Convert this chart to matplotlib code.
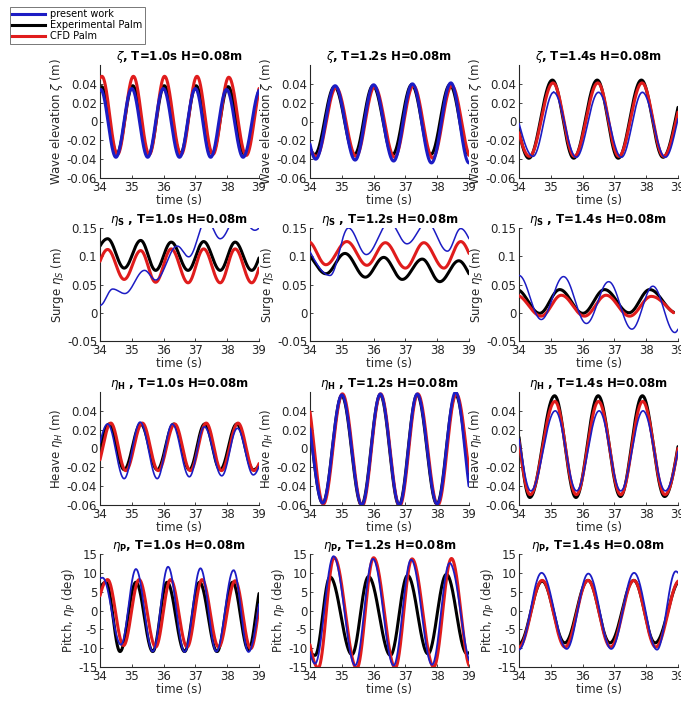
import numpy as np
import matplotlib
matplotlib.use("Agg")
import matplotlib.pyplot as plt
from matplotlib.lines import Line2D

# ---------------- data (knots: start, extrema..., end) ----------------
# Row 1: wave elevation zeta (m)
z10_blue_t = [34, 34.02, 34.5, 35.0, 35.5, 35.99, 36.5, 37.0, 37.48, 37.98, 38.5, 39]
z10_blue_v = [0.033, 0.034, -0.038, 0.035, -0.038, 0.035, -0.038, 0.035, -0.038, 0.034, -0.038, 0.033]
z10_black_t = [34, 34.05, 34.53, 35.03, 35.53, 36.02, 36.53, 37.02, 37.53, 38.03, 38.55, 39]
z10_black_v = [0.036, 0.037, -0.034, 0.038, -0.035, 0.038, -0.034, 0.038, -0.034, 0.037, -0.035, 0.033]
z10_red_t = [34, 34.06, 34.55, 35.05, 35.55, 36.03, 36.55, 37.05, 37.55, 38.05, 38.6, 39]
z10_red_v = [0.046, 0.048, -0.035, 0.048, -0.035, 0.048, -0.035, 0.048, -0.035, 0.047, -0.036, 0.035]

z12_blue_t = [34, 34.18, 34.79, 35.42, 36.0, 36.63, 37.22, 37.82, 38.43, 39]
z12_blue_v = [-0.024, -0.040, 0.038, -0.041, 0.039, -0.042, 0.040, -0.044, 0.041, -0.044]
z12_black_t = [34, 34.15, 34.77, 35.4, 35.98, 36.6, 37.2, 37.8, 38.4, 39]
z12_black_v = [-0.028, -0.035, 0.037, -0.035, 0.038, -0.035, 0.039, -0.035, 0.039, -0.035]
z12_red_t = [34, 34.2, 34.82, 35.45, 36.03, 36.66, 37.25, 37.86, 38.46, 39]
z12_red_v = [-0.028, -0.037, 0.036, -0.037, 0.037, -0.038, 0.038, -0.039, 0.038, -0.036]

z14_blue_t = [34, 34.44, 35.09, 35.8, 36.5, 37.22, 37.88, 38.6, 39]
z14_blue_v = [-0.002, -0.037, 0.031, -0.038, 0.031, -0.038, 0.031, -0.038, 0.003]
z14_black_t = [34, 34.31, 35.05, 35.72, 36.46, 37.12, 37.85, 38.53, 39]
z14_black_v = [-0.010, -0.039, 0.044, -0.039, 0.044, -0.039, 0.044, -0.038, 0.015]
z14_red_t = [34, 34.33, 35.07, 35.74, 36.48, 37.14, 37.87, 38.55, 39]
z14_red_v = [-0.012, -0.037, 0.041, -0.037, 0.041, -0.037, 0.041, -0.037, 0.010]

# Row 2: surge (m)
s10_blue_t = [34, 34.4, 34.78, 35.4, 35.75, 36.43, 36.79, 37.35, 37.78, 38.35, 38.87, 39]
s10_blue_v = [0.013, 0.042, 0.034, 0.075, 0.058, 0.118, 0.099, 0.165, 0.131, 0.175, 0.146, 0.150]
s10_black_t = [34, 34.24, 34.76, 35.28, 35.75, 36.24, 36.77, 37.26, 37.78, 38.25, 38.77, 39]
s10_black_v = [0.118, 0.131, 0.079, 0.128, 0.075, 0.125, 0.075, 0.126, 0.075, 0.125, 0.075, 0.097]
s10_red_t = [34, 34.24, 34.76, 35.28, 35.75, 36.24, 36.77, 37.26, 37.78, 38.25, 38.77, 39]
s10_red_v = [0.091, 0.112, 0.059, 0.110, 0.054, 0.113, 0.053, 0.113, 0.053, 0.113, 0.053, 0.079]

s12_blue_t = [34, 34.63, 35.21, 35.77, 36.5, 37.05, 37.68, 38.32, 38.74, 39]
s12_blue_v = [0.108, 0.066, 0.150, 0.103, 0.160, 0.122, 0.160, 0.109, 0.149, 0.131]
s12_black_t = [34, 34.5, 35.1, 35.74, 36.32, 36.9, 37.53, 38.08, 38.68, 39]
s12_black_v = [0.100, 0.069, 0.105, 0.063, 0.098, 0.059, 0.095, 0.055, 0.092, 0.069]
s12_red_t = [34, 34.5, 35.16, 35.79, 36.37, 37.0, 37.58, 38.21, 38.74, 39]
s12_red_v = [0.125, 0.085, 0.126, 0.084, 0.124, 0.079, 0.124, 0.079, 0.126, 0.105]

s14_blue_t = [34, 34.7, 35.4, 36.12, 36.82, 37.55, 38.21, 38.9, 39]
s14_blue_v = [0.066, -0.012, 0.064, -0.019, 0.055, -0.029, 0.047, -0.035, -0.029]
s14_black_t = [34, 34.65, 35.28, 36.01, 36.69, 37.46, 38.11, 38.86]
s14_black_v = [0.040, -0.001, 0.041, -0.001, 0.041, 0.0, 0.041, 0.001]
s14_red_t = [34, 34.7, 35.33, 36.06, 36.74, 37.48, 38.16, 38.86]
s14_red_v = [0.030, -0.006, 0.031, -0.006, 0.031, -0.006, 0.029, 0.0]

# Row 3: heave (m)
h10_blue_t = [34, 34.24, 34.76, 35.26, 35.8, 36.27, 36.81, 37.28, 37.83, 38.32, 38.82, 39]
h10_blue_v = [0.006, 0.026, -0.032, 0.028, -0.032, 0.026, -0.030, 0.023, -0.029, 0.0215, -0.028, -0.019]
h10_black_t = [34, 34.29, 34.76, 35.28, 35.8, 36.32, 36.81, 37.29, 37.78, 38.3, 38.82, 39]
h10_black_v = [0.0, 0.026, -0.0225, 0.026, -0.0225, 0.026, -0.0225, 0.026, -0.0225, 0.026, -0.0225, -0.018]
h10_red_t = [34, 34.34, 34.81, 35.33, 35.83, 36.35, 36.84, 37.34, 37.82, 38.34, 38.84, 39]
h10_red_v = [-0.012, 0.027, -0.0235, 0.027, -0.0235, 0.026, -0.0235, 0.027, -0.0235, 0.027, -0.0235, -0.016]

h12_blue_t = [34, 34.4, 35.0, 35.63, 36.21, 36.81, 37.37, 38.0, 38.58, 39]
h12_blue_v = [0.021, -0.058, 0.057, -0.060, 0.058, -0.060, 0.058, -0.059, 0.060, -0.040]
h12_black_t = [34, 34.4, 35.0, 35.62, 36.21, 36.8, 37.37, 37.99, 38.58, 39]
h12_black_v = [0.022, -0.058, 0.056, -0.060, 0.057, -0.060, 0.057, -0.059, 0.057, -0.030]
h12_red_t = [34, 34.42, 35.02, 35.64, 36.22, 36.82, 37.39, 38.02, 38.6, 39]
h12_red_v = [0.039, -0.059, 0.058, -0.061, 0.058, -0.061, 0.058, -0.060, 0.058, -0.025]

h14_blue_t = [34, 34.37, 35.14, 35.81, 36.52, 37.2, 37.9, 38.6, 39]
h14_blue_v = [0.010, -0.045, 0.040, -0.045, 0.040, -0.045, 0.040, -0.045, -0.003]
h14_black_t = [34, 34.34, 35.12, 35.79, 36.49, 37.19, 37.88, 38.58, 39]
h14_black_v = [0.012, -0.052, 0.056, -0.052, 0.056, -0.051, 0.056, -0.051, 0.002]
h14_red_t = [34, 34.35, 35.13, 35.8, 36.5, 37.2, 37.89, 38.59, 39]
h14_red_v = [0.008, -0.049, 0.050, -0.049, 0.050, -0.049, 0.050, -0.049, 0.0]

# Row 4: pitch (deg)
p10_blue_t = [34, 34.08, 34.66, 35.13, 35.66, 36.14, 36.66, 37.16, 37.66, 38.2, 38.67, 39]
p10_blue_v = [8.5, 8.7, -9.1, 11.0, -10.9, 11.6, -11.0, 11.2, -10.9, 10.7, -11.0, 1.7]
p10_black_t = [34, 34.19, 34.63, 35.13, 35.66, 36.11, 36.66, 37.13, 37.68, 38.17, 38.67, 39]
p10_black_v = [6.0, 7.5, -10.9, 7.5, -10.9, 7.5, -10.9, 7.5, -10.9, 7.5, -10.5, 4.5]
p10_red_t = [34, 34.24, 34.74, 35.23, 35.75, 36.22, 36.74, 37.21, 37.73, 38.25, 38.74, 39]
p10_red_v = [3.9, 8.2, -9.3, 8.2, -9.7, 8.2, -9.7, 8.2, -9.7, 7.9, -10.1, 0.8]

p12_blue_t = [34, 34.16, 34.74, 35.42, 35.98, 36.63, 37.18, 37.84, 38.39, 39]
p12_blue_v = [-11.0, -14.1, 14.4, -14.6, 13.7, -14.6, 13.5, -14.4, 12.6, -13.2]
p12_black_t = [34, 34.16, 34.63, 35.32, 35.84, 36.53, 37.07, 37.71, 38.29, 38.93, 39]
p12_black_v = [-11.0, -11.9, 8.9, -11.7, 9.0, -11.9, 9.3, -11.5, 9.6, -11.4, -11.2]
p12_red_t = [34, 34.26, 34.76, 35.47, 36.0, 36.68, 37.21, 37.89, 38.45, 39]
p12_red_v = [-9.1, -15.2, 14.1, -15.4, 14.0, -15.2, 13.7, -15.0, 13.8, -14.6]

p14_blue_t = [34, 34.71, 35.5, 36.18, 36.9, 37.62, 38.34, 38.93, 39]
p14_blue_v = [-10.4, 10.0, -10.2, 9.8, -10.2, 10.0, -10.4, 10.4, 10.0]
p14_black_t = [34, 34.73, 35.44, 36.17, 36.86, 37.61, 38.28, 38.98]
p14_black_v = [-8.9, 7.8, -8.6, 8.0, -8.6, 8.0, -8.6, 7.4]
p14_red_t = [34, 34.73, 35.45, 36.17, 36.88, 37.61, 38.3, 39.0]
p14_red_v = [-9.7, 8.0, -9.7, 8.0, -9.7, 8.0, -9.7, 7.8]

periods = ["1.0", "1.2", "1.4"]
legend_labels = ["present work", "Experimental Palm", "CFD Palm"]
row_titles = [r"$\zeta$, T={}s H=0.08m",
              r"$\eta_\mathbf{{S}}$ , T={}s H=0.08m",
              r"$\eta_\mathbf{{H}}$ , T={}s H=0.08m",
              r"$\eta_\mathbf{{P}}$, T={}s H=0.08m"]
row_ylabels = [r"Wave elevation $\zeta$ (m)", r"Surge $\eta_S$ (m)",
               r"Heave $\eta_H$ (m)", r"Pitch, $\eta_P$ (deg)"]
row_ylims = [(-0.06, 0.06), (-0.05, 0.15), (-0.06, 0.06), (-15, 15)]
row_yticks = [[-0.06, -0.04, -0.02, 0, 0.02, 0.04],
              [-0.05, 0, 0.05, 0.1, 0.15],
              [-0.06, -0.04, -0.02, 0, 0.02, 0.04],
              [-15, -10, -5, 0, 5, 10, 15]]
xticks = [34, 35, 36, 37, 38, 39]

series = {
    (0, 0): ((z10_blue_t, z10_blue_v), (z10_black_t, z10_black_v), (z10_red_t, z10_red_v)),
    (0, 1): ((z12_blue_t, z12_blue_v), (z12_black_t, z12_black_v), (z12_red_t, z12_red_v)),
    (0, 2): ((z14_blue_t, z14_blue_v), (z14_black_t, z14_black_v), (z14_red_t, z14_red_v)),
    (1, 0): ((s10_blue_t, s10_blue_v), (s10_black_t, s10_black_v), (s10_red_t, s10_red_v)),
    (1, 1): ((s12_blue_t, s12_blue_v), (s12_black_t, s12_black_v), (s12_red_t, s12_red_v)),
    (1, 2): ((s14_blue_t, s14_blue_v), (s14_black_t, s14_black_v), (s14_red_t, s14_red_v)),
    (2, 0): ((h10_blue_t, h10_blue_v), (h10_black_t, h10_black_v), (h10_red_t, h10_red_v)),
    (2, 1): ((h12_blue_t, h12_blue_v), (h12_black_t, h12_black_v), (h12_red_t, h12_red_v)),
    (2, 2): ((h14_blue_t, h14_blue_v), (h14_black_t, h14_black_v), (h14_red_t, h14_red_v)),
    (3, 0): ((p10_blue_t, p10_blue_v), (p10_black_t, p10_black_v), (p10_red_t, p10_red_v)),
    (3, 1): ((p12_blue_t, p12_blue_v), (p12_black_t, p12_black_v), (p12_red_t, p12_red_v)),
    (3, 2): ((p14_blue_t, p14_blue_v), (p14_black_t, p14_black_v), (p14_red_t, p14_red_v)),
}

# ---------------- smooth curve through extrema knots ----------------
def arc_end(t_ext, e, eo, t_free, v_free, n=60):
    d = abs(t_ext - t_free)
    if d < 1e-9:
        return np.array([t_ext]), np.array([e])
    r = (v_free - e) / (eo - e) if eo != e else 0.0
    if r >= 1.0:
        # free end lies beyond the opposite extremum: treat it as an extremum
        eo, h = v_free, d
    else:
        r = max(r, 1e-4)
        h = np.pi * d / np.arccos(1 - 2 * r)
    tt = np.linspace(t_free, t_ext, n)
    yy = e + (eo - e) * (1 - np.cos(np.pi * np.abs(t_ext - tt) / h)) / 2
    return tt, yy


def smooth(tk, vk):
    tk = list(tk); vk = list(vk)
    ts, ys = [], []
    a, b = arc_end(tk[1], vk[1], vk[2], tk[0], vk[0])
    ts.append(a); ys.append(b)
    for i in range(1, len(tk) - 2):
        tt = np.linspace(tk[i], tk[i + 1], 60)
        s = (tt - tk[i]) / (tk[i + 1] - tk[i])
        yy = vk[i] + (vk[i + 1] - vk[i]) * (1 - np.cos(np.pi * s)) / 2
        ts.append(tt); ys.append(yy)
    a, b = arc_end(tk[-2], vk[-2], vk[-3], tk[-1], vk[-1])
    ts.append(a[::-1]); ys.append(b[::-1])
    return np.concatenate(ts), np.concatenate(ys)

# ---------------- figure ----------------
plt.rcParams['font.family'] = ['DejaVu Sans']
plt.rcParams['mathtext.fontset'] = 'dejavusans'
W, H = 681, 704
fig = plt.figure(figsize=(W / 100, H / 100), dpi=100)

col_left = [100, 310, 519]
row_top = [65, 228, 392, 554]
aw, ah = 159, 113

BLUE = '#1c1cc4'
BLACK = '#000000'
RED = '#e01c1c'
GREY = '#262626'
blue_lw = {(0, 0): 2.2, (0, 1): 2.2, (0, 2): 1.2, (1, 0): 1.1, (1, 1): 1.1, (1, 2): 1.1,
           (2, 0): 1.2, (2, 1): 2.0, (2, 2): 1.2, (3, 0): 1.3, (3, 1): 1.3, (3, 2): 1.3}

for r in range(4):
    for c in range(3):
        ax = fig.add_axes([col_left[c] / W, 1 - (row_top[r] + ah) / H, aw / W, ah / H])
        (bt, bv), (kt, kv), (rt, rv) = series[(r, c)]
        x, y = smooth(kt, kv)
        ax.plot(x, y, color=BLACK, lw=2.2, zorder=2, solid_capstyle='round')
        x, y = smooth(rt, rv)
        ax.plot(x, y, color=RED, lw=2.2, zorder=3, solid_capstyle='round')
        x, y = smooth(bt, bv)
        ax.plot(x, y, color=BLUE, lw=blue_lw[(r, c)], zorder=4, solid_capstyle='round')
        ax.set_xlim(34, 39)
        ax.set_ylim(*row_ylims[r])
        ax.set_xticks(xticks)
        ax.set_yticks(row_yticks[r])
        ax.set_yticklabels([("%g" % v) for v in row_yticks[r]])
        for sp in ['top', 'right']:
            ax.spines[sp].set_visible(False)
        for sp in ['left', 'bottom']:
            ax.spines[sp].set_color(GREY)
            ax.spines[sp].set_linewidth(0.8)
        ax.tick_params(direction='in', length=2.5, width=0.6, colors=GREY,
                       labelsize=8.5, pad=2)
        ax.set_xlabel("time (s)", fontsize=8.5, color=GREY, labelpad=0)
        ax.set_ylabel(row_ylabels[r], fontsize=8.5, color=GREY, labelpad=1)
        ax.set_title(row_titles[r].format(periods[c]), fontsize=8.5,
                     fontweight='bold', pad=3)
        ax.patch.set_alpha(0)

handles = [Line2D([], [], color=BLUE, lw=2.2),
           Line2D([], [], color=BLACK, lw=2.2),
           Line2D([], [], color=RED, lw=2.2)]
leg = fig.legend(handles, legend_labels, loc='upper left',
                 bbox_to_anchor=(10 / W, 1 - 7 / H), fontsize=7, frameon=True,
                 fancybox=False, edgecolor='#555555', handlelength=3.4,
                 borderpad=0.25, labelspacing=0.1, handletextpad=0.5,
                 borderaxespad=0)
leg.get_frame().set_linewidth(0.7)

fig.savefig("out.png", dpi=100)
